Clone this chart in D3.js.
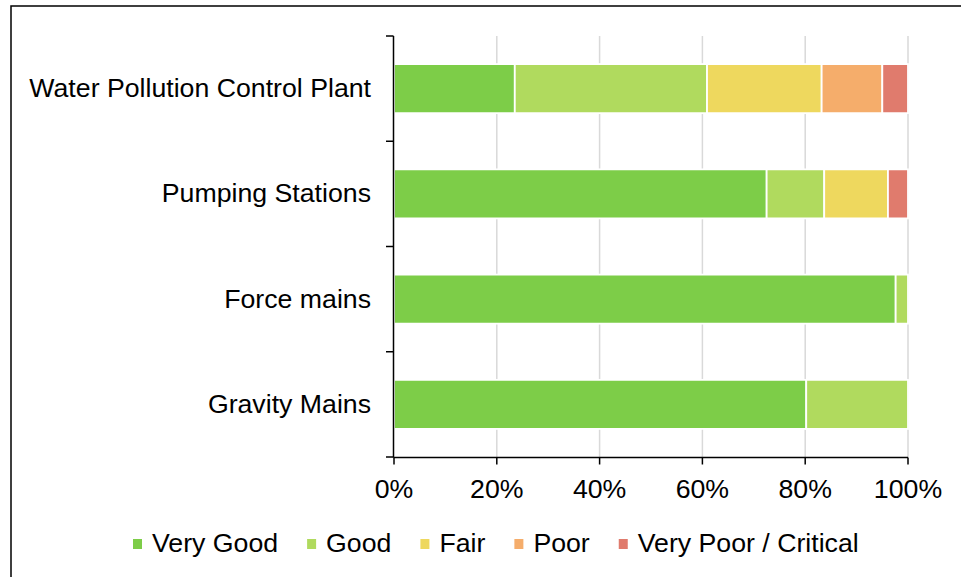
<!DOCTYPE html>
<html><head><meta charset="utf-8">
<script src="https://cdn.jsdelivr.net/npm/d3@7"></script>
<style>
html,body{margin:0;padding:0;background:#fff;}
svg text{font-family:"Liberation Sans",Arial,sans-serif;fill:#000;}
</style></head>
<body><svg id="chart" width="961" height="577"></svg>
<script>
const categories = ["Water Pollution Control Plant","Pumping Stations","Force mains","Gravity Mains"];
const seriesNames = ["Very Good","Good","Fair","Poor","Very Poor / Critical"];
const veryGood = [23.5, 72.5, 97.6, 80.2];
const good     = [37.4, 11.2,  2.4, 19.8];
const fair     = [22.3, 12.4,  0,    0];
const poor     = [11.8,  0,    0,    0];
const veryPoor = [ 5.0,  3.9,  0,    0];
const tickValues = [0, 0.2, 0.4, 0.6, 0.8, 1.0];
const colors = ["#7dcd48","#b0da5e","#eed85e","#f5ad6b","#e07b6d"];

const seriesData = [veryGood, good, fair, poor, veryPoor];
const rows = categories.map((c, i) => {
  const o = {category: c};
  let total = 0;
  seriesNames.forEach((s, j) => { total += seriesData[j][i]; });
  seriesNames.forEach((s, j) => { o[s] = seriesData[j][i] / total; });
  return o;
});

const svg = d3.select("#chart");
const FONT = 26.7;
// outer border
svg.append("rect").attr("x", 11).attr("y", 6).attr("width", 1000).attr("height", 620)
  .attr("fill", "none").attr("stroke", "#000").attr("stroke-width", 1.5);

const x = d3.scaleLinear().domain([0, 1]).range([394, 908]);
const y = d3.scaleBand().domain(categories).range([36, 457]).paddingInner(0.534).paddingOuter(0.267);

// gridlines
svg.append("g").selectAll("line").data(tickValues.filter(d => d > 0)).join("line")
  .attr("x1", d => x(d)).attr("x2", d => x(d)).attr("y1", 36).attr("y2", 457)
  .attr("stroke", "#d9d9d9").attr("stroke-width", 1.5);

// bars
const stack = d3.stack().keys(seriesNames);
const stacked = stack(rows);
svg.append("g").selectAll("g").data(stacked).join("g")
  .attr("fill", (d, i) => colors[i])
  .selectAll("rect").data(d => d.filter(p => p[1] - p[0] > 0)).join("rect")
  .attr("x", d => x(d[0])).attr("width", d => x(d[1]) - x(d[0]))
  .attr("y", d => y(d.data.category)).attr("height", y.bandwidth())
  .attr("stroke", "#fff").attr("stroke-width", 1.8);

// y axis line + ticks at band boundaries
const step = y.step();
const boundaries = d3.range(categories.length + 1).map(i => 36 + i * step);
svg.append("line").attr("x1", 393.5).attr("x2", 393.5).attr("y1", 36).attr("y2", 457.5)
  .attr("stroke", "#000").attr("stroke-width", 1.5);
svg.append("g").selectAll("line").data(boundaries).join("line")
  .attr("x1", 386).attr("x2", 393.5).attr("y1", d => d).attr("y2", d => d)
  .attr("stroke", "#000").attr("stroke-width", 1.5);

// x axis
svg.append("line").attr("x1", 393.5).attr("x2", 908).attr("y1", 457.5).attr("y2", 457.5)
  .attr("stroke", "#000").attr("stroke-width", 1.5);
svg.append("g").selectAll("line").data(tickValues).join("line")
  .attr("x1", d => x(d)).attr("x2", d => x(d)).attr("y1", 457.5).attr("y2", 464.5)
  .attr("stroke", "#000").attr("stroke-width", 1.5);
svg.append("g").selectAll("text").data(tickValues).join("text")
  .attr("x", d => x(d)).attr("y", 498).attr("text-anchor", "middle")
  .attr("font-size", FONT).text(d3.format(".0%"));

// category labels
svg.append("g").selectAll("text").data(categories).join("text")
  .attr("x", 371).attr("y", d => y(d) + y.bandwidth() / 2 + 8.5)
  .attr("text-anchor", "end").attr("font-size", FONT).text(d => d);

// legend
const lg = svg.append("g");
let lx = 133;
seriesNames.forEach((s, i) => {
  lg.append("rect").attr("x", lx).attr("y", 539).attr("width", 9).attr("height", 10).attr("fill", colors[i]);
  const t = lg.append("text").attr("x", lx + 19).attr("y", 552).attr("font-size", FONT).text(s);
  lx = lx + 19 + t.node().getComputedTextLength() + 29;
});
</script></body></html>
